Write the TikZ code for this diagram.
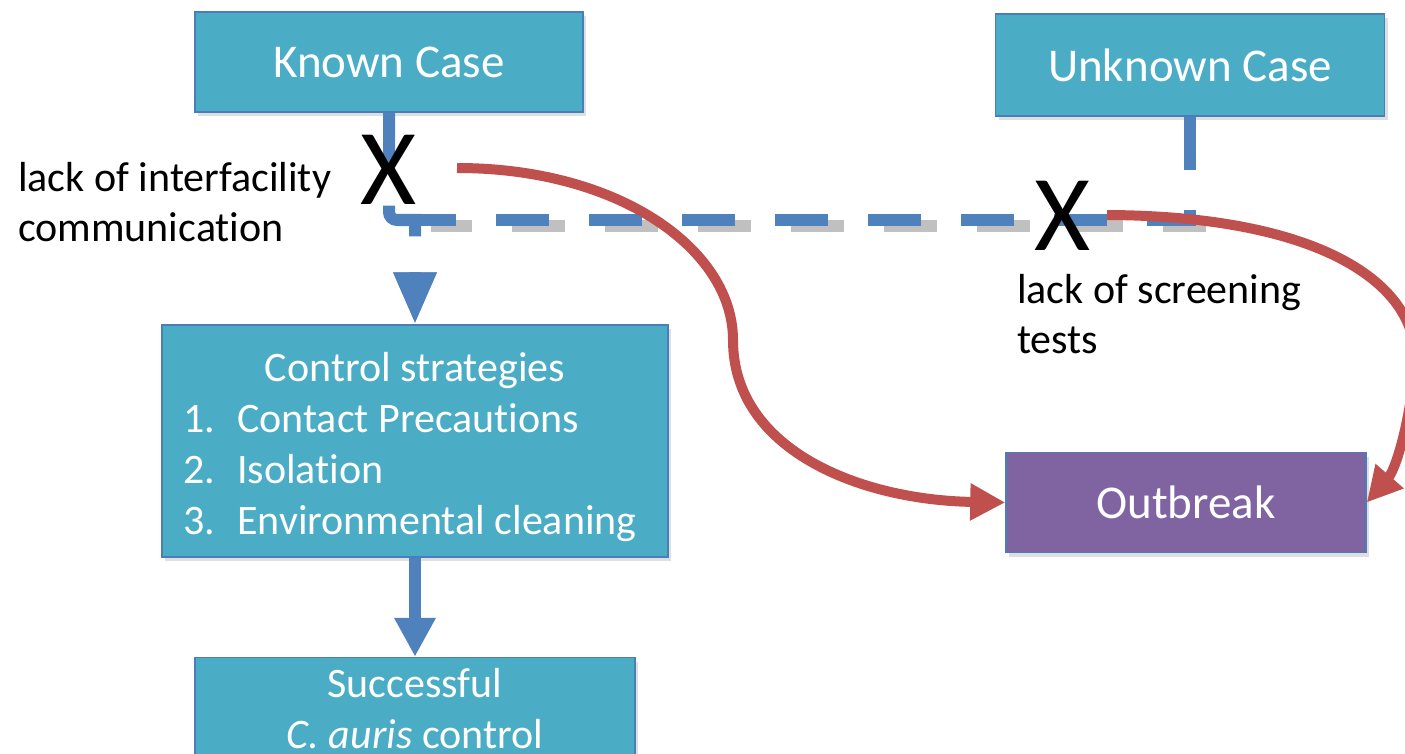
\documentclass[tikz,border=0pt]{standalone}
\usepackage{fontspec}
\setmainfont{Carlito}[Ligatures=NoCommon]
\usepackage{tikz}
\usetikzlibrary{positioning,arrows.meta,shadows}

\definecolor{caseblue}{HTML}{4BACC6}
\definecolor{edgeblue}{HTML}{4A7EBB}
\definecolor{linkblue}{HTML}{4F81BD}
\definecolor{outbreakpurple}{HTML}{8064A2}
\definecolor{failred}{HTML}{C0504D}

\begin{document}
\begin{tikzpicture}
		[x=1pt, y=-1pt,
		% STYLES
		every node/.style={inner sep=0pt},
		% The caseBox style is used for the cases and the strategies
		caseBox/.style={rectangle, draw=edgeblue, line width=1.5pt, fill=caseblue, text=white, align=center, drop shadow={shadow xshift=3pt, shadow yshift=-4pt, opacity=0.25}},
		bigText/.style={font=\fontsize{47}{56}\selectfont},
		smallText/.style={font=\fontsize{42}{51}\selectfont},
		% the outbreak
		outbreakBox/.style={caseBox, fill=outbreakpurple},
		% The comment style describes why the control fails
		comment/.style={align=left, font=\fontsize{42}{50}\selectfont},
		% big crosses on the links
		cross/.style={font=\fontsize{108}{108}\selectfont},
		% links
		link/.style={draw=linkblue, line width=12pt, -{Triangle[length=39pt,width=39pt]}},
		dashLink/.style={link, dash pattern=on 53pt off 40pt, -{Triangle[length=52pt,width=40pt]}},
		dashShadow/.style={draw=black!45, opacity=0.55, line width=12pt, dash pattern=on 53pt off 40pt, dash phase=10pt, transform canvas={shift={(16,6)}}},
		fail/.style={draw=failred, line width=10pt, -{Triangle[length=35pt,width=35pt]}}]

		\useasboundingbox (0,0) rectangle (1405,754);
		\clip (0,0) rectangle (1405,754);

		% Draw boxes
		\node [caseBox, bigText, minimum width=388pt, minimum height=100pt] (kc) at (389,62) {Known Case};
		\node [caseBox, bigText, minimum width=389pt, minimum height=102pt] (uc) at (1190,65) {Unknown Case};

		\node [caseBox, smallText, minimum width=506pt, minimum height=232pt] (cs) at (415,441) {%
			\raisebox{0pt}[\dimexpr\height+14pt][\depth]{%
			\begin{tabular}{@{}l@{\hspace{22pt}}l@{\hspace{10pt}}}
				\multicolumn{2}{@{}c@{}}{Control strategies}\\
				1. & Contact Precautions\\
				2. & Isolation\\
				3. & Environmental cleaning
			\end{tabular}}};
		\node [caseBox, smallText, minimum width=440pt, minimum height=103pt, below=99pt of cs] (succ) {Successful\\\textit{C. auris} control};

		\node [outbreakBox, bigText, minimum width=360pt, minimum height=100pt, below=335pt of uc, xshift=-4pt] (ob) {Outbreak};

		%%%%%%%%%%%%%%%
		% Comments
		\node [comment, anchor=north west] (kc-comment) at (18,162) {lack of interfacility\\communication};
		\node [comment, anchor=north west] (uc-comment) at (1017,274) {lack of screening\\tests};

		%%%%%%%%%%%%%%%%
		% Draw the links between boxes
		\coordinate (kbend) at (389,220);
		\coordinate (jbend) at (415,220);
		\coordinate (ubend) at (1190,220);
		\draw [dashShadow] (ubend) -- (jbend);
		\draw [dashLink] (kc.south) [rounded corners=8pt]-- (kbend) [sharp corners]-- (jbend) -- (cs.north);
		\draw [dashLink] (uc.south) -- (ubend) -- (jbend) -- (cs.north);
		\draw [link] (cs.south) -- (succ.north);

		% the ways to an outbreak
		\coordinate (kfail) at (457,168);
		\coordinate (ufail) at (1107,215);
		\draw [fail] (kfail) .. controls (620,168) and (733,250) .. (733,340)
			.. controls (733,450) and (860,500) .. (ob.west);
		\draw [fail] (ufail) .. controls (1330,216) and (1428,290) .. (1414,375)
			.. controls (1408,430) and (1395,470) .. (ob.east);

		% crosses
		\node [cross] (kcross) at (389,170) {X};
		\node [cross] (ucross) at (1063,216) {X};
\end{tikzpicture}
\end{document}
